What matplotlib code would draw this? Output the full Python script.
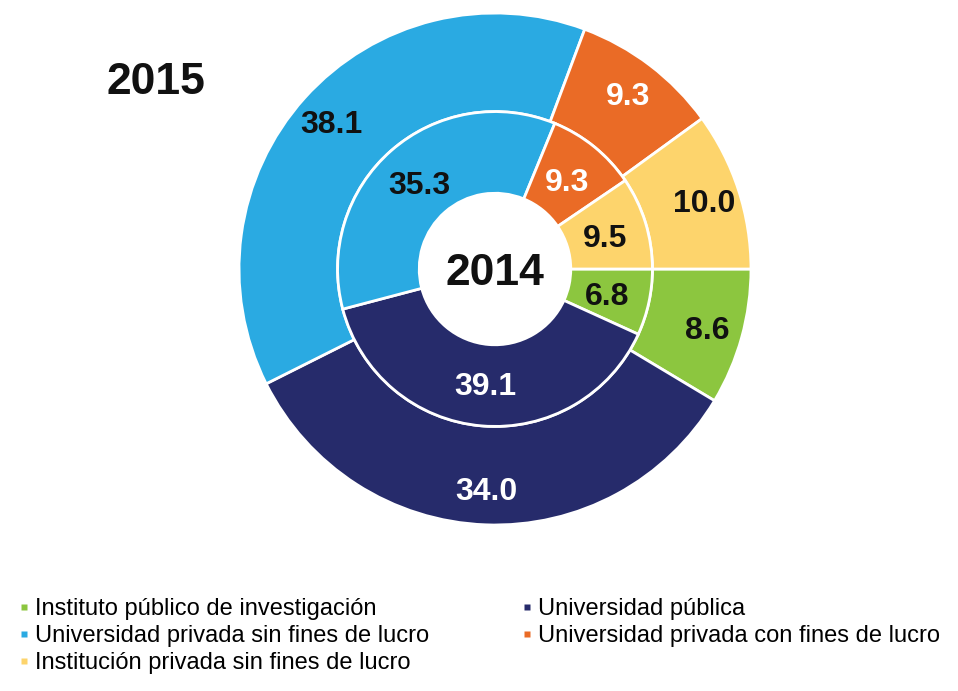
import matplotlib.pyplot as plt
from matplotlib.lines import Line2D

plt.rcParams['font.family'] = ['Liberation Sans', 'DejaVu Sans']

# datos (orden horario desde las 3 en punto)
categorias = ['Instituto público de investigación', 'Universidad pública',
              'Universidad privada sin fines de lucro',
              'Universidad privada con fines de lucro',
              'Institución privada sin fines de lucro']
valores_2015 = [8.6, 34.0, 38.1, 9.3, 10.0]
valores_2014 = [6.8, 39.1, 35.3, 9.3, 9.5]
colores = ['#8cc63f', '#262b6b', '#2aaae2', '#ea6b26', '#fdd46c']
color_texto = ['#111111', 'white', '#111111', 'white', '#111111']

fig = plt.figure(figsize=(9.58, 6.91), dpi=100)
ax = fig.add_axes([0.2495, 0.2402, 0.5344, 0.741])

borde = dict(edgecolor='white', linewidth=2)
estilo = dict(fontsize=23, fontweight='bold', ha='center', va='center_baseline')

w_out, t_out = ax.pie(valores_2015, colors=colores, startangle=0, counterclock=False,
                      radius=1.0, wedgeprops=dict(width=0.385, **borde),
                      labels=[f'{v:.1f}' for v in valores_2015], labeldistance=0.86,
                      textprops=estilo)
w_in, t_in = ax.pie(valores_2014, colors=colores, startangle=0, counterclock=False,
                    radius=0.615, wedgeprops=dict(width=0.319, **borde),
                    labels=[f'{v:.1f}' for v in valores_2014], labeldistance=0.73,
                    textprops=estilo)

for t, c in zip(t_out, color_texto):
    t.set_color(c)
for t, c in zip(t_in, color_texto):
    t.set_color(c)

ax.text(0, 0, '2014', ha='center', va='center_baseline', fontsize=32,
        fontweight='bold', color='#111111')
ax.set_xlim(-1, 1)
ax.set_ylim(-1, 1)
ax.set_aspect('equal')
ax.axis('off')

fig.text(156 / 958, 1 - 78 / 691, '2015', ha='center', va='center_baseline',
         fontsize=32, fontweight='bold', color='#111111')

# leyenda
orden = [0, 2, 4, 1, 3]
handles = [Line2D([], [], marker='s', linestyle='none', markersize=4,
                  markerfacecolor=colores[i], markeredgecolor='none') for i in orden]
labels = [categorias[i] for i in orden]
fig.legend(handles, labels, loc='upper left', bbox_to_anchor=(0.012, 1 - 589 / 691),
           ncol=2, frameon=False, fontsize=17, handlelength=0.3, handletextpad=0.3,
           columnspacing=4.0, labelspacing=0.2, borderaxespad=0)

fig.savefig('out.png', dpi=100, facecolor='white')
